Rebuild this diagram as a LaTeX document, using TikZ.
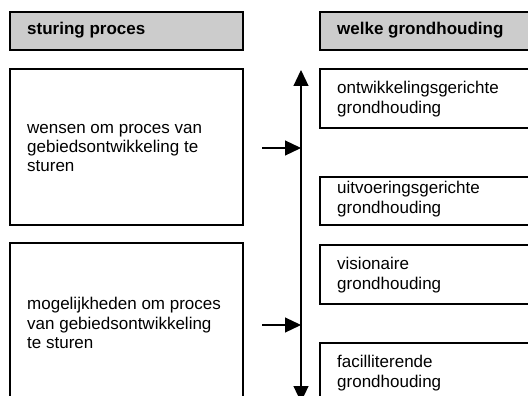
\documentclass[tikz,border=0pt]{standalone}
\usepackage{fontspec}
\setmainfont{Liberation Sans}
\usetikzlibrary{arrows.meta}
\begin{document}
\begin{tikzpicture}[x=1pt,y=-1pt,
  box/.style={draw=black,line width=1.2pt,fill=white},
  hbox/.style={draw=black,line width=1.2pt,fill=black!20},
  txt/.style={anchor=west,align=left,inner sep=0pt,font=\fontsize{17}{19.3}\selectfont},
  htxt/.style={anchor=west,align=left,inner sep=0pt,font=\fontsize{17}{19.3}\selectfont\bfseries},
  conn/.style={line width=1.2pt,-{Triangle[length=16pt,width=15pt]}}]
\useasboundingbox (0,0) rectangle (528,396);
% headers
\draw[hbox] (10,12) rectangle (243,50);
\node[htxt] (h1) at (27,30) {sturing proces};
\draw[hbox] (320,12) rectangle (540,50);
\node[htxt] (h2) at (337,30) {welke grondhouding};
% left boxes
\draw[box] (10,69) rectangle (243,225);
\node[txt] (l1) at (27,148) {wensen om proces van\\gebiedsontwikkeling te\\sturen};
\draw[box] (10,243) rectangle (243,402);
\node[txt] (l2) at (27,323) {mogelijkheden om proces\\van gebiedsontwikkeling\\te sturen};
% right boxes
\draw[box] (320,69) rectangle (540,128);
\node[txt] (r1) at (337,99) {ontwikkelingsgerichte\\grondhouding};
\draw[box] (320,177) rectangle (540,225);
\node[txt] (r2) at (337,199) {uitvoeringsgerichte\\grondhouding};
\draw[box] (320,245) rectangle (540,304);
\node[txt] (r3) at (337,275) {visionaire\\grondhouding};
\draw[box] (320,343) rectangle (540,402);
\node[txt] (r4) at (337,373) {facilliterende\\grondhouding};
% connectors
\coordinate (mid) at (301,236);
\coordinate (top) at (301,70);
\coordinate (bot) at (301,402);
\coordinate (a1s) at (262,148);
\coordinate (a1e) at (301,148);
\coordinate (a2s) at (262,325);
\coordinate (a2e) at (301,325);
\draw[conn] (mid) -- (top);
\draw[conn] (mid) -- (bot);
\draw[conn] (a1s) -- (a1e);
\draw[conn] (a2s) -- (a2e);
\end{tikzpicture}
\end{document}
